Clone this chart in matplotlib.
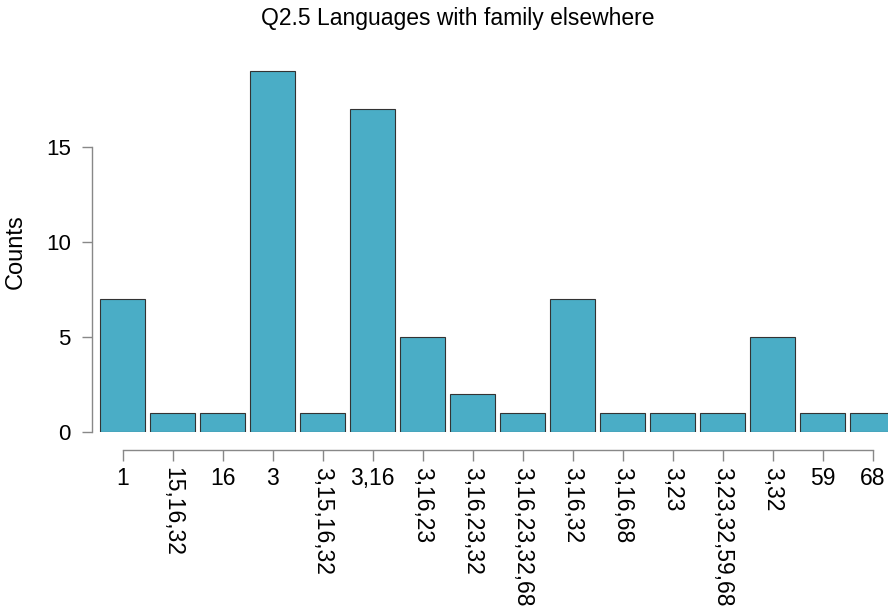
import matplotlib
matplotlib.use("Agg")
import matplotlib.pyplot as plt
import numpy as np

categories = ["1", "15,16,32", "16", "3", "3,15,16,32", "3,16", "3,16,23",
              "3,16,23,32", "3,16,23,32,68", "3,16,32", "3,16,68", "3,23",
              "3,23,32,59,68", "3,32", "59", "68"]
counts = [7, 1, 1, 19, 1, 17, 5, 2, 1, 7, 1, 1, 1, 5, 1, 1]
yticks = [0, 5, 10, 15]
rotated = [False, True, False, False, True, False, True, True, True, True,
           True, True, True, True, False, False]

plt.rcParams['font.family'] = ['Liberation Sans', 'DejaVu Sans']
W, H = 888, 611
fig = plt.figure(figsize=(W / 100, H / 100), dpi=100)
ax = fig.add_axes([92 / W, (H - 432) / H, (W - 92) / W, (432 - 60) / H])

x = np.arange(len(categories))
ax.bar(x, counts, width=0.9, color="#4aadc6", edgecolor="#333333", linewidth=0.8)
ax.set_xlim(-0.61, len(categories) - 1 + 0.31)
ax.set_ylim(0, 19.58)

for s in ["top", "right"]:
    ax.spines[s].set_visible(False)
ax.spines["left"].set_bounds(0, 15)
ax.spines["bottom"].set_bounds(0, len(categories) - 1)
ax.spines["bottom"].set_position(("outward", 18 * 0.72))
for s in ["left", "bottom"]:
    ax.spines[s].set_color("#888888")
    ax.spines[s].set_linewidth(1.0)

ax.set_yticks(yticks)
ax.set_xticks(x)
ax.set_xticklabels(categories)
ax.tick_params(axis="y", length=7.2, width=1.0, color="#888888", pad=8, labelsize=16)
ax.tick_params(axis="x", length=8, width=1.0, color="#888888", pad=4.3, labelsize=16.5)
for lab, r in zip(ax.get_xticklabels(), rotated):
    if r:
        lab.set_rotation(270)
    lab.set_ha("center")
    lab.set_va("top")

fig.text(458 / W, 1 - 19 / H, "Q2.5 Languages with family elsewhere",
         ha="center", va="center", fontsize=16.5)
fig.text(16 / W, 1 - 252 / H, "Counts", rotation=90, ha="center", va="center", fontsize=17)

fig.savefig("out.png", dpi=100)
